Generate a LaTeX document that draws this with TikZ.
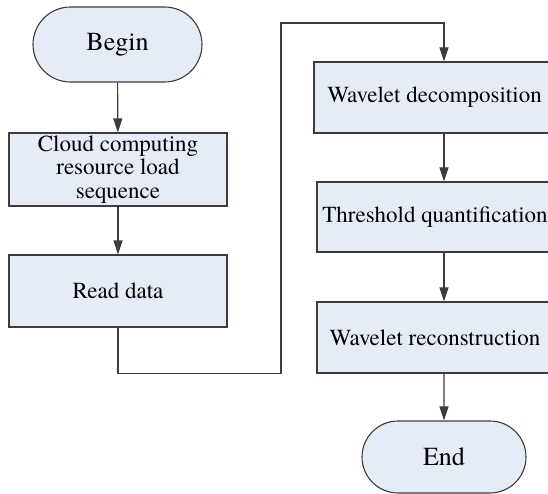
\documentclass[tikz,border=0pt]{standalone}
\usepackage{fontspec}
\setmainfont{texgyretermes}[Extension=.otf,UprightFont=*-regular,BoldFont=*-bold,ItalicFont=*-italic,BoldItalicFont=*-bolditalic]
\usetikzlibrary{arrows.meta,shapes.misc}
\definecolor{fondbleu}{RGB}{230,236,247}
\definecolor{trait}{RGB}{60,60,60}

\begin{document}
\begin{tikzpicture}[x=1pt,y=-1pt,
  boite/.style={draw=trait,line width=1.1pt,fill=fondbleu,rectangle,inner sep=0pt,
    align=center,font=\rmfamily\fontsize{23}{23.5}\selectfont},
  terminal/.style={boite,rounded rectangle,font=\rmfamily\fontsize{26}{28}\selectfont},
  fleche/.style={draw=trait,line width=1.1pt,-{Triangle[length=14pt,width=9pt]}}]

\clip (0,0) rectangle (548,494);

% Colonne de gauche
\node[terminal,minimum width=169pt,minimum height=75pt] (debut) at (117.5,44.5) {Begin};
\node[boite,minimum width=218pt,minimum height=73pt] (charge) at (118,169.5)
  {Cloud computing\\resource load\\sequence};
\node[boite,minimum width=218pt,minimum height=72pt] (lecture) at (118,291) {Read data};

% Colonne de droite
\node[boite,minimum width=241pt,minimum height=71pt] (decomp) at (434.5,97.5) {Wavelet decomposition};
\node[boite,minimum width=236pt,minimum height=70pt] (seuil) at (435,217) {Threshold quantification};
\node[boite,minimum width=236pt,minimum height=71pt] (recons) at (435,337.5) {Wavelet reconstruction};
\node[terminal,minimum width=164pt,minimum height=72pt] (fin) at (444,457) {End};

% Liaisons
\draw[fleche] (debut) -- (charge);
\draw[fleche] (charge) -- (lecture);
\coordinate (haut) at (281,23);
\draw[fleche] (lecture.south) -- ++(0,46) -| (haut) -| (decomp.north -| fin.north);
\draw[fleche] (decomp.south -| fin.north) -- (seuil.north -| fin.north);
\draw[fleche] (seuil.south -| fin.north) -- (recons.north -| fin.north);
\draw[fleche] (recons.south -| fin.north) -- (fin);
\end{tikzpicture}
\end{document}
